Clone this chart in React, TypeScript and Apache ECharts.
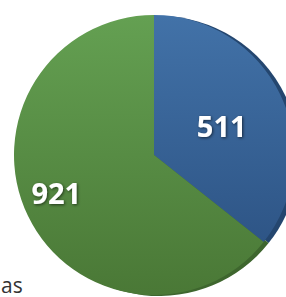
import React, { useEffect, useRef } from "react";
import * as echarts from "echarts";

const categories = ["A", "B"];
const values = [511, 921];
const colorsTop = ["#4272a8", "#64a052"];
const colorsBottom = ["#2e5586", "#4a7836"];
const labelOffsets = [[2, 2], [-32, 6]];
const legendText = "as";

export default function App() {
  const ref = useRef<HTMLDivElement>(null);
  useEffect(() => {
    if (!ref.current) return;
    const chart = echarts.init(ref.current, null, { renderer: "svg" });
    const center = [154, 155];
    const radius = 140;
    chart.setOption({
      animation: false,
      title: {
        text: legendText,
        left: -4,
        top: 274,
        padding: [0, 5, 0, 5],
        textStyle: { fontSize: 21, fontWeight: "normal", color: "#333", fontFamily: "Open Sans" },
      },
      series: [
        {
          type: "pie",
          silent: true,
          center: [center[0] + 5, center[1] + 1],
          radius: radius,
          startAngle: 90,
          clockwise: true,
          label: { show: false },
          labelLine: { show: false },
          data: categories.map((c, i) => ({
            name: c,
            value: values[i],
            itemStyle: { color: i === 0 ? "#24466f" : "#3e662e" },
          })),
          z: 1,
        },
        {
          type: "pie",
          center: center,
          radius: radius,
          startAngle: 90,
          clockwise: true,
          labelLine: { show: false },
          label: {
            show: true,
            position: "inside",
            formatter: "{c}",
            color: "#fff",
            fontSize: 29,
            fontWeight: "bold",
            fontFamily: "Open Sans",
            textShadowColor: "rgba(0,0,0,0.6)",
            textShadowBlur: 3,
            textShadowOffsetX: 1,
            textShadowOffsetY: 1,
          },
          data: categories.map((c, i) => ({
            name: c,
            value: values[i],
            label: { offset: labelOffsets[i] },
            itemStyle: {
              color: new echarts.graphic.LinearGradient(0, 0, 0, 1, [
                { offset: 0, color: colorsTop[i] },
                { offset: 1, color: colorsBottom[i] },
              ]),
            },
          })),
          z: 2,
        },
      ],
    });
    return () => chart.dispose();
  }, []);
  return (
    <div
      ref={ref}
      style={{ position: "fixed", left: 0, top: 0, width: 286, height: 297, background: "#fff" }}
    />
  );
}
